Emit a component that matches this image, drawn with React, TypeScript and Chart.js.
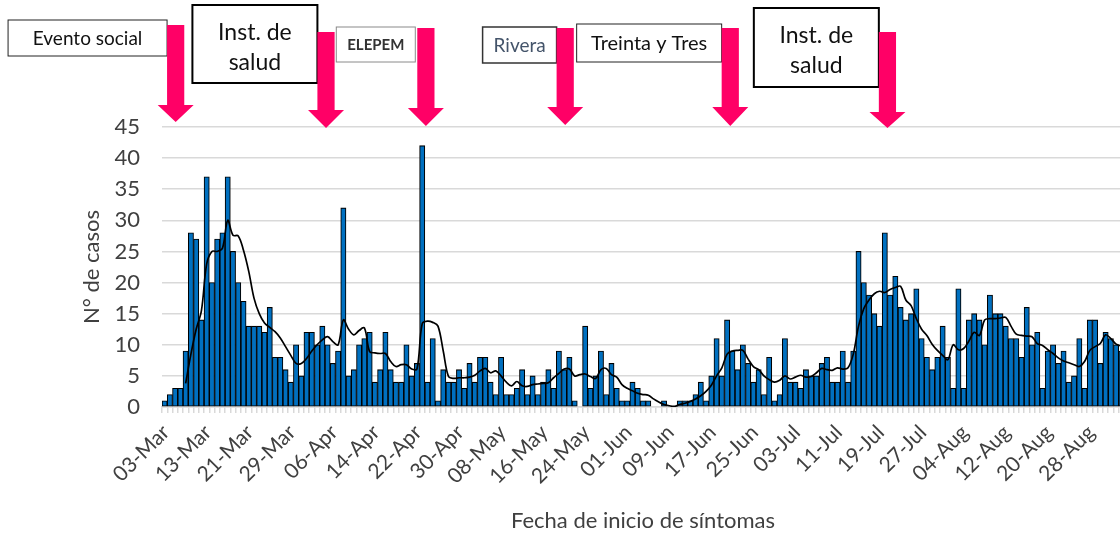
import React, { useEffect, useRef } from "react";
import { Chart, registerables } from "chart.js";

Chart.register(...registerables);

// Daily confirmed cases (bars)
const CASES: number[] = [
  1, 2, 3, 3, 9, 28, 27, 14, 37, 20, 27, 28, 37, 25, 20, 17, 13, 13, 13, 12,
  16, 8, 8, 6, 4, 10, 5, 12, 12, 10, 13, 10, 7, 9, 32, 5, 6, 10, 11, 12,
  4, 6, 12, 6, 4, 4, 10, 5, 7, 42, 4, 11, 1, 6, 4, 4, 6, 3, 7, 4,
  8, 8, 4, 2, 8, 2, 2, 3, 6, 2, 5, 2, 4, 6, 3, 9, 6, 8, 1, 0,
  13, 3, 5, 9, 2, 7, 3, 1, 1, 4, 3, 1, 1, 0, 0, 1, 0, 0, 1, 1,
  1, 2, 4, 1, 5, 11, 5, 14, 9, 6, 10, 7, 4, 6, 2, 8, 1, 2, 11, 4,
  4, 3, 6, 5, 5, 7, 8, 4, 4, 9, 4, 9, 25, 20, 18, 15, 13, 28, 18, 21,
  16, 14, 15, 19, 11, 8, 6, 8, 13, 8, 3, 19, 3, 14, 15, 14, 10, 18, 15, 15,
  13, 11, 11, 8, 16, 10, 12, 3, 9, 10, 7, 9, 4, 5, 11, 3, 14, 14, 7, 12,
  11, 10, 9,
];

// Smoothed trend line
const TREND: (number | null)[] = [
  null, null, null, null, 3.8, 8.5, 12.5, 15.5, 23, 25, 25, 25.5, 30, 27.6, 27.5, 25.2, 21.8, 17.5, 15, 13.5,
  12.8, 12.1, 11.1, 9.7, 8.3, 7, 7, 7.8, 9, 10, 10.8, 11.3, 10.5, 10, 14, 12.5, 11.6, 12.3, 12.7, 8.9,
  8.7, 8.6, 8.6, 7.3, 6.5, 6.8, 6.8, 6.1, 6.1, 13.4, 13.8, 13.6, 13, 9, 4.9, 4.6, 4.7, 4.7, 4.8, 5.1,
  5.8, 6.2, 5.5, 5.8, 5, 4, 3.4, 4.1, 3.4, 3.3, 3.6, 3.7, 3.8, 3.9, 4.7, 5.4, 6.1, 6.1, 5, 5.2,
  5.3, 4.9, 4.6, 6, 6.2, 5.2, 4.8, 3.6, 3, 2.6, 2.2, 2, 1.9, 1.3, 0.8, 0.4, 0.2, 0.1, 0.4, 0.6,
  0.9, 1.3, 1.8, 2.5, 3.5, 5, 6.3, 8.5, 9, 9.1, 9.1, 7.7, 6.5, 6, 5, 4.4, 4, 4.3, 5, 4.5,
  4.8, 5.1, 4.8, 4.9, 5.5, 6.2, 6, 5.9, 6.3, 6.1, 6.3, 8.5, 13, 15.8, 17.2, 18.2, 18.6, 18.4, 18.9, 19.2,
  19.4, 17.2, 16.3, 14.2, 12.5, 11.5, 10.1, 9.1, 8.3, 7.6, 10, 9.2, 9.4, 10.6, 12, 11.5, 14, 14.2, 14.2, 14.3,
  14.4, 13, 11.7, 11.5, 11.4, 11.3, 10.2, 9.9, 9.2, 8.6, 7.9, 7.4, 7.1, 6.8, 6.5, 7.3, 9.1, 9.7, 10.2, 11.6,
  11, 10.1, 9.8,
];

// Tick labels shown on the x axis (one every 8 days, starting at the 2nd bar)
const TICK_LABELS: string[] = [
  "03-Mar", "13-Mar", "21-Mar", "29-Mar", "06-Apr", "14-Apr", "22-Apr", "30-Apr",
  "08-May", "16-May", "24-May", "01-Jun", "09-Jun", "17-Jun", "25-Jun", "03-Jul",
  "11-Jul", "19-Jul", "27-Jul", "04-Aug", "12-Aug", "20-Aug", "28-Aug",
];
const TICK_START = 1;
const TICK_STEP = 8;

const MONTHS = ["Jan", "Feb", "Mar", "Apr", "May", "Jun", "Jul", "Aug", "Sep", "Oct", "Nov", "Dec"];
const CATEGORIES: string[] = CASES.map((_, i) => {
  const d = new Date(2020, 2, 4 + i);
  return String(d.getDate()).padStart(2, "0") + "-" + MONTHS[d.getMonth()];
});

// Event annotations: label lines and the (day index) they point at
const EVENT_TEXT: string[][] = [
  ["Evento social"],
  ["Inst. de", "salud"],
  ["ELEPEM"],
  ["Rivera"],
  ["Treinta y Tres"],
  ["Inst. de", "salud"],
];
const EVENT_AT: number[] = [2.1, 30.7, 49.7, 76.2, 107.6, 137.5];

// Annotation box/arrow styling (layout only)
const EVENT_STYLE = [
  { w: 159, y: 20, h: 36, size: 19, color: "#111", border: "#222", lw: 1, gap: 0, top: 25, head: 105, tip: 122, weight: "normal" },
  { w: 125, y: 5, h: 78, size: 23, color: "#111", border: "#000", lw: 2, gap: 0, top: 32, head: 110, tip: 128, weight: "normal" },
  { w: 79, y: 27, h: 35, size: 15, color: "#333", border: "#8a8a8a", lw: 1, gap: 2, top: 28, head: 108, tip: 126, weight: "bold" },
  { w: 74, y: 27, h: 36, size: 19, color: "#44546A", border: "#333", lw: 1.5, gap: 0, top: 28, head: 107, tip: 125, weight: "normal" },
  { w: 145, y: 24, h: 38, size: 20, color: "#111", border: "#222", lw: 1, gap: 0, top: 28, head: 107, tip: 126, weight: "normal" },
  { w: 125, y: 8, h: 79, size: 23, color: "#111", border: "#000", lw: 2, gap: 0, top: 32, head: 112, tip: 128, weight: "normal" },
];

const FONT = "Lato, 'Noto Sans', sans-serif";

const eventPlugin = {
  id: "events",
  afterDraw(chart: any) {
    const ctx = chart.ctx as CanvasRenderingContext2D;
    const xs = chart.scales.x;
    const p0 = xs.getPixelForValue(0);
    const step = xs.getPixelForValue(1) - p0;
    EVENT_TEXT.forEach((lines, k) => {
      const st = EVENT_STYLE[k];
      const cx = p0 + EVENT_AT[k] * step;
      const sw = 8.6;
      const hw = 18;
      ctx.save();
      // box
      const right = cx - sw - st.gap;
      const left = right - st.w;
      ctx.fillStyle = "#ffffff";
      ctx.fillRect(left, st.y, st.w, st.h);
      ctx.strokeStyle = st.border;
      ctx.lineWidth = st.lw;
      ctx.strokeRect(left, st.y, st.w, st.h);
      ctx.fillStyle = st.color;
      ctx.font = `${st.weight} ${st.size}px ${FONT}`;
      ctx.textAlign = "center";
      ctx.textBaseline = "middle";
      const mid = left + st.w / 2;
      if (lines.length === 1) {
        ctx.fillText(lines[0], mid, st.y + st.h / 2 + 1);
      } else {
        ctx.fillText(lines[0], mid, st.y + 28);
        ctx.fillText(lines[1], mid, st.y + 58);
      }
      // arrow
      ctx.fillStyle = "#FF0066";
      ctx.beginPath();
      ctx.moveTo(cx - sw, st.top);
      ctx.lineTo(cx + sw, st.top);
      ctx.lineTo(cx + sw, st.head);
      ctx.lineTo(cx + hw, st.head);
      ctx.lineTo(cx, st.tip);
      ctx.lineTo(cx - hw, st.head);
      ctx.lineTo(cx - sw, st.head);
      ctx.closePath();
      ctx.fill();
      ctx.restore();
    });
  },
};

export default function App() {
  const ref = useRef<HTMLCanvasElement | null>(null);

  useEffect(() => {
    if (!ref.current) return;
    const chart = new Chart(ref.current, {
      type: "bar",
      data: {
        labels: CATEGORIES,
        datasets: [
          {
            type: "line",
            label: "Tendencia",
            data: TREND,
            borderColor: "#000000",
            borderWidth: 1.7,
            pointRadius: 0,
            tension: 0.35,
            fill: false,
            order: 0,
          } as any,
          {
            type: "bar",
            label: "Casos",
            data: CASES,
            backgroundColor: "#0070C0",
            borderColor: "#000000",
            borderWidth: 1.1,
            borderSkipped: false,
            barPercentage: 1,
            categoryPercentage: 1,
            order: 1,
          } as any,
        ],
      },
      options: {
        responsive: false,
        maintainAspectRatio: false,
        animation: false,
        layout: { padding: { left: 75, right: 16, top: 127, bottom: 0 } },
        plugins: {
          legend: { display: false },
          tooltip: { enabled: false },
          title: { display: false },
        },
        scales: {
          x: {
            type: "category",
            offset: true,
            grid: {
              display: true,
              drawOnChartArea: false,
              drawTicks: true,
              tickLength: 6,
              color: "#d9d9d9",
              lineWidth: 1.5,
            },
            border: { display: true, color: "#d9d9d9", width: 1.5 },
            ticks: {
              autoSkip: false,
              maxRotation: 45,
              minRotation: 45,
              padding: 7,
              labelOffset: -4,
              color: "#404040",
              font: { family: FONT, size: 21 },
              callback: (_v: any, index: number) => {
                const k = index - TICK_START;
                if (k >= 0 && k % TICK_STEP === 0) return TICK_LABELS[k / TICK_STEP] ?? "";
                return "";
              },
            },
            title: {
              display: true,
              text: "Fecha de inicio de síntomas",
              color: "#404040",
              font: { family: FONT, size: 22 },
              padding: { top: 0, bottom: 2 },
            },
            afterFit: (s: any) => {
              s.height = 129;
              s.paddingLeft = 0;
              s.paddingRight = 0;
            },
          },
          y: {
            min: 0,
            max: 45,
            grid: {
              color: "#d9d9d9",
              lineWidth: 1.5,
              drawTicks: false,
            },
            border: { display: false },
            ticks: {
              stepSize: 5,
              padding: 22,
              color: "#404040",
              font: { family: FONT, size: 22 },
            },
            title: {
              display: true,
              text: "N° de casos",
              color: "#404040",
              font: { family: FONT, size: 22 },
              padding: { top: 4, bottom: 4 },
            },
            afterFit: (s: any) => {
              s.width = 87;
            },
          },
        },
      },
      plugins: [eventPlugin],
    });
    return () => chart.destroy();
  }, []);

  return (
    <div
      style={{
        position: "fixed",
        left: 0,
        top: 0,
        width: 1120,
        height: 536,
        overflow: "hidden",
        background: "#ffffff",
      }}
    >
      <canvas ref={ref} width={1140} height={536} style={{ display: "block", width: 1140, height: 536 }} />
    </div>
  );
}
